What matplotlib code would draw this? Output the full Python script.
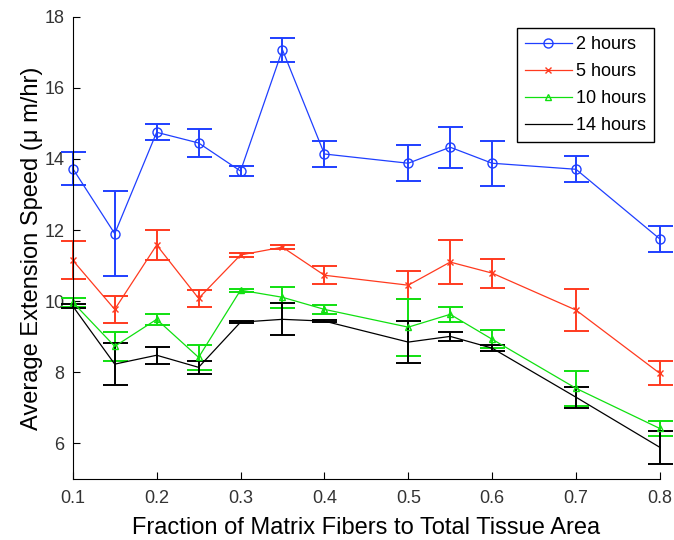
import matplotlib.pyplot as plt

plt.rcParams['font.family'] = ['Liberation Sans', 'DejaVu Sans']

x = [0.1, 0.15, 0.2, 0.25, 0.3, 0.35, 0.4, 0.5, 0.55, 0.6, 0.7, 0.8]

h2 = [13.73, 11.9, 14.75, 14.45, 13.66, 17.07, 14.14, 13.88, 14.33, 13.88, 13.71, 11.75]
h2_err = [0.47, 1.2, 0.23, 0.4, 0.13, 0.33, 0.36, 0.5, 0.58, 0.63, 0.36, 0.37]

h5 = [11.15, 9.77, 11.58, 10.08, 11.3, 11.52, 10.73, 10.45, 11.1, 10.79, 9.75, 7.97]
h5_err = [0.53, 0.37, 0.41, 0.23, 0.05, 0.05, 0.25, 0.39, 0.62, 0.41, 0.6, 0.34]

h10 = [9.97, 8.73, 9.49, 8.42, 10.31, 10.11, 9.77, 9.27, 9.63, 8.93, 7.55, 6.42]
h10_err = [0.12, 0.4, 0.16, 0.35, 0.04, 0.3, 0.13, 0.8, 0.21, 0.25, 0.5, 0.2]

h14 = [9.86, 8.23, 8.48, 8.14, 9.41, 9.49, 9.44, 8.85, 9.01, 8.68, 7.3, 5.89]
h14_err = [0.05, 0.6, 0.24, 0.18, 0.03, 0.45, 0.03, 0.6, 0.12, 0.08, 0.3, 0.47]

fig = plt.figure(figsize=(6.74, 5.4), dpi=100)
ax = fig.add_axes([0.108, 0.113, 0.871, 0.856])

series = [
    (h2, h2_err, '#1f3fff', 'o', 6.5, '2 hours'),
    (h5, h5_err, '#ff3a1f', 'x', 4, '5 hours'),
    (h10, h10_err, '#10e010', '^', 5, '10 hours'),
    (h14, h14_err, 'black', 'None', 0, '14 hours'),
]
handles = []
for y, e, c, m, ms, lab in series:
    eb = ax.errorbar(x, y, yerr=e, color=c, marker=m, markersize=ms,
                     markerfacecolor='none', markeredgecolor=c, lw=0.9,
                     elinewidth=1.4, capsize=9, capthick=1.4, label=lab, clip_on=False)
    handles.append(eb.lines[0])

ax.set_xlim(0.1, 0.8)
ax.set_ylim(5, 18)
ax.set_xticks([0.1, 0.2, 0.3, 0.4, 0.5, 0.6, 0.7, 0.8])
ax.set_yticks([6, 8, 10, 12, 14, 16, 18])
ax.spines['top'].set_visible(False)
ax.spines['right'].set_visible(False)
ax.tick_params(direction='in', length=5, labelsize=13, labelcolor='#333333')
ax.tick_params(axis='x', pad=8)
ax.tick_params(axis='y', pad=6)

ax.set_xlabel('Fraction of Matrix Fibers to Total Tissue Area', fontsize=17, labelpad=7)
ax.set_ylabel('Average Extension Speed (\u03bc m/hr)', fontsize=17, labelpad=1)

leg = ax.legend(handles=handles, labels=[s[5] for s in series],
                loc='upper right', bbox_to_anchor=(1.005, 0.995), fontsize=13,
                fancybox=False, edgecolor='black', framealpha=1, handlelength=2.6,
                handletextpad=0.2, borderpad=0.45, labelspacing=0.55)
leg.get_frame().set_linewidth(1.0)

plt.savefig('out.png')
